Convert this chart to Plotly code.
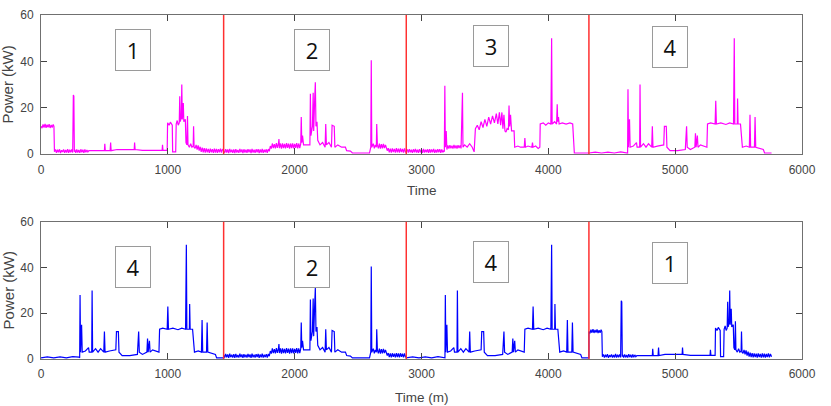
import plotly.graph_objects as go
from plotly.subplots import make_subplots

# ---------------- data (minute of day, kW) ----------------
DAY1 = [(0,12),(8,11.2),(16,12.8),(24,11.5),(32,13),(40,11.4),(48,12.7),(56,11.6),(64,12.9),(72,11.3),(80,12.6),
        (88,11.5),(96,12.8),(102,12),
        (106,1),(114,2),(122,0.6),(130,1.9),(138,0.8),(146,2.1),(154,0.5),(162,1.7),(170,0.9),(178,2),(186,0.6),
        (194,1.8),(202,0.7),(210,2.2),(218,0.6),(226,1.9),(234,0.8),(242,2),(250,0.7),(255,25.5),(259,25),(263,1),
        (266,1.9),(274,0.6),(282,2),(290,0.7),(298,1.8),(306,0.6),(314,2.1),(322,0.8),(330,1.9),(338,0.6),(346,2),
        (354,0.8),(362,1.8),(370,1),(378,1.5),(500,1.5),(503,4.5),(507,1.5),
        (545,1.5),(549,5),(553,1.5),(600,2),(700,2),(735,2),(738,5),(742,2),(800,1.6),(955,1.6),(958,4),(962,1.6),
        (995,1.6),(998,13.5),(1010,12.5),(1020,13.8),(1035,12.5),(1038,1),(1062,1),(1066,13),(1074,14.5),(1082,12.5),
        (1090,13.5),(1094,25),(1098,14),(1106,16),(1110,30),(1114,15),(1122,22),(1126,14),(1138,15),(1143,5),(1150,4),
        (1155,16.5),(1159,4),(1170,3),(1180,4.5),(1190,3),(1200,3.5),(1203,12),(1207,3),
        (1215,2.5),(1223,4),(1231,2),(1239,3.8),(1247,1.5),(1255,3.2),(1263,1),(1271,2.8),(1279,0.8),(1287,2.6),
        (1295,0.7),(1303,2.5),(1311,0.8),(1319,2.3),(1327,0.6),(1335,2.4),(1343,0.8),(1351,2.2),(1359,0.6),(1367,2.4),
        (1375,0.7),(1383,2.3),(1391,0.6),(1399,2.2),(1407,0.8),(1415,2.4),(1423,0.7),(1431,2.2),(1440,1)]

DAY2 = [(0,1.8),(8,0.6),(16,2.2),(24,0.7),(32,2),(40,0.5),(48,2.3),(56,0.8),(64,1.9),(72,0.6),(80,2.1),(88,0.5),
        (96,2.2),(104,0.7),(112,1.8),(120,0.6),(128,2.3),(136,0.8),(144,2),(152,0.5),(160,2.1),(168,0.7),(176,1.9),
        (184,0.6),(192,2.2),(200,0.8),(208,2),(216,0.5),(224,2.3),(232,0.7),(240,1.9),(248,0.6),(256,2.1),(264,0.8),
        (272,2.2),(280,0.5),(288,2),(296,0.7),(304,2.3),(312,0.6),(320,1.9),(328,0.8),(336,2.1),(344,0.6),(352,2.2),
        (360,1.2),(368,3.5),(376,2.4),(384,4.6),(392,2.6),(400,4.3),(408,2.5),(416,4.8),(424,2.7),(432,4.5),(436,6.5),
        (440,2.6),(448,4.6),(456,2.4),(464,4.7),(472,2.6),(480,4.4),(488,2.5),(496,4.8),(504,2.7),(512,4.5),(520,2.4),
        (528,4.6),(536,2.6),(544,4.7),(552,2.5),(560,4.4),(568,2.7),(576,4.8),(584,2.5),(592,4.6),(600,2.6),(608,4.5),
        (612,16),(616,5),(622,8),(630,4),(680,4),(684,26),(688,8),(700,12),(706,26.5),(710,10),(718,24),(723,31),
        (728,12),(736,14),(742,6),(760,4),(780,5),(800,3),(805,13),(810,4),(830,5),(850,3),(855,12.5),(872,12),(877,3),
        (900,4),(930,3),(960,3),(970,1.5),(1000,1.3),(1015,0.5),(1150,0.5),(1160,3),(1164,40.5),(1168,3),(1180,4.5),
        (1188,2.5),(1196,4),(1204,3),(1207,13),(1212,4),(1220,2.5),(1228,4.5),(1236,2.4),(1244,4.3),(1252,2.5),
        (1260,4.4),(1268,2.6),(1276,4),(1284,2.2),(1290,1.5),(1298,2.6),(1306,0.8),(1314,2.4),(1322,0.7),(1330,2.5),
        (1338,0.9),(1346,2.3),(1354,0.7),(1362,2.6),(1370,0.8),(1378,2.4),(1386,0.7),(1394,2.5),(1402,0.9),(1410,2.3),
        (1418,0.7),(1426,2.5),(1434,0.8),(1440,1.2)]

DAY3 = [(0,1),(8,2),(16,0.7),(24,2.2),(32,0.8),(40,1.9),(48,0.6),(56,2.1),(64,0.8),(72,2.3),(80,0.7),(88,1.9),
        (96,0.6),(104,2.2),(112,0.8),(120,2),(128,0.6),(136,2.3),(144,0.7),(152,1.9),(160,0.8),(168,2.1),(176,0.6),
        (184,2.2),(192,0.7),(200,2),(208,0.8),(216,2.3),(224,0.6),(232,1.9),(240,0.7),(248,2.1),(256,0.8),(264,2.2),
        (272,0.6),(280,2),(288,0.8),(296,1.5),(300,1),(304,29.5),(308,3),(315,10),(320,2),(328,3.8),(336,2.4),
        (344,3.9),(352,2.5),(360,3.7),(368,2.4),(376,4),(384,2.5),(392,3.8),(400,2.4),(408,3.9),(416,2.6),(424,3.8),
        (432,2.5),(443,26.5),(447,3),(460,4),(480,3),(500,4.5),(520,3),(535,1),(545,11),(560,12.5),(575,10.5),
        (590,14),(605,11.5),(620,15),(635,12),(650,16),(665,13),(680,16.5),(695,13.5),(710,17.5),(722,13),(734,18),
        (744,12.5),(754,18),(762,11),(770,17),(778,10),(786,9.5),(795,11),(805,10.5),(810,21),(815,12),(822,17),
        (830,10),(850,10),(855,3),(880,3.5),(900,3),(930,3),(935,7),(940,3),(960,3.5),(990,3),(995,5),(1000,3),
        (1020,3.5),(1040,2.5),(1053,3),(1056,13),(1080,13.5),(1100,12.5),(1120,13.5),(1140,13),(1146,50),(1150,13),
        (1170,14),(1185,13),(1190,21.5),(1194,14),(1200,16),(1205,13),(1230,13.5),(1260,13),(1290,13.5),(1312,13),
        (1325,0.5),(1440,0.5)]

DAY4 = [(0,0.5),(50,0.9),(100,0.5),(150,0.9),(200,0.5),(250,1),(300,0.8),(305,0.5),(308,28),(312,3),(320,15),
        (325,3),(350,3.5),(375,5),(380,3),(400,3),(403,30),(407,3),(430,4.5),(450,3),(470,4.5),(495,3),(500,12),
        (505,3),(540,3.5),(590,4),(595,12),(610,12),(615,3),(640,1.5),(700,1.5),(760,2),(770,12),(775,3),(800,2),
        (835,3),(840,9),(845,3),(855,8),(860,3),(880,4),(930,3),(935,13),(960,13.5),(995,13),(1000,23),(1005,13),
        (1040,13.5),(1080,12.8),(1110,13.5),(1140,13),(1146,50),(1150,13),(1170,13),(1172,24),(1176,13),(1195,13),
        (1210,3),(1240,3.5),(1265,3),(1270,17),(1275,3),(1305,3),(1310,16),(1315,3),(1340,2.5),(1375,2),(1385,0.5),
        (1440,0.5)]

DAYS = {1: DAY1, 2: DAY2, 3: DAY3, 4: DAY4}
DAY_LEN = 1440
TOP_ORDER = [1, 2, 3, 4]
BOTTOM_ORDER = [4, 2, 4, 1]
DAY_BOUNDARIES = [1440, 2880, 4320]
X_TICKS = [0, 1000, 2000, 3000, 4000, 5000, 6000]
Y_TICKS = [0, 20, 40, 60]


def compose(order):
    xs, ys = [], []
    for i, d in enumerate(order):
        for t, p in DAYS[d]:
            xs.append(i * DAY_LEN + t)
            ys.append(p)
    return xs, ys


top_x, top_y = compose(TOP_ORDER)
bot_x, bot_y = compose(BOTTOM_ORDER)

# ---------------- figure ----------------
W, H = 831, 406
ML, MR, MT, MB = 41, 29, 8, 47
PH = H - MT - MB
PW = W - ML - MR

fig = make_subplots(rows=2, cols=1)
fig.add_trace(go.Scatter(x=top_x, y=top_y, mode="lines",
                         line=dict(color="#ff00ff", width=1.2)), row=1, col=1)
fig.add_trace(go.Scatter(x=bot_x, y=bot_y, mode="lines",
                         line=dict(color="#0000ff", width=1.2)), row=2, col=1)

axis_common = dict(showgrid=False, zeroline=False, showline=True, linecolor="#707070",
                   linewidth=1, mirror="ticks", ticks="inside", ticklen=6, tickcolor="#444",
                   tickfont=dict(family="Liberation Sans, Arial", size=12, color="#444"))


def py2paper(py):
    return (H - MB - py) / PH


fig.update_layout(
    width=W, height=H, margin=dict(l=ML, r=MR, t=MT, b=MB),
    paper_bgcolor="white", plot_bgcolor="white", showlegend=False,
    xaxis=dict(range=[0, 6000], tickvals=X_TICKS, domain=[0, 1], anchor="y",
               ticklabelstandoff=4, **axis_common),
    yaxis=dict(range=[0, 60], tickvals=Y_TICKS, domain=[py2paper(150), 1], anchor="x",
               ticklabelstandoff=4, **axis_common),
    xaxis2=dict(range=[0, 6000], tickvals=X_TICKS, domain=[0, 1], anchor="y2",
                ticklabelstandoff=4, **axis_common),
    yaxis2=dict(range=[0, 60], tickvals=Y_TICKS, domain=[0, py2paper(219)], anchor="x2",
                ticklabelstandoff=4, **axis_common),
)

for xb in DAY_BOUNDARIES:
    for yr, xr in (("y domain", "x"), ("y2 domain", "x2")):
        fig.add_shape(type="line", x0=xb, x1=xb, y0=0, y1=1, xref=xr, yref=yr,
                      line=dict(color="#ff3030", width=1.5), layer="above")

# day labels in boxes
box_font = dict(family="Open Sans, Liberation Sans", size=22, color="#111")
TOP_BOX = [(725, 44.8), (2137, 44.8), (3548, 46.5), (4959, 46.3)]
BOT_BOX = [(725, 40.3), (2137, 40.3), (3548, 42.4), (4959, 42.0)]
for (bx, by), d in zip(TOP_BOX, TOP_ORDER):
    fig.add_annotation(x=bx, y=by, xref="x", yref="y", text=str(d), showarrow=False,
                       font=box_font, bordercolor="#9a9a9a", borderwidth=1, borderpad=2,
                       bgcolor="white", width=30, height=36)
for (bx, by), d in zip(BOT_BOX, BOTTOM_ORDER):
    fig.add_annotation(x=bx, y=by, xref="x2", yref="y2", text=str(d), showarrow=False,
                       font=box_font, bordercolor="#9a9a9a", borderwidth=1, borderpad=2,
                       bgcolor="white", width=30, height=36)

title_font = dict(family="Liberation Sans, Arial", size=13.5, color="#444")
fig.add_annotation(x=0.5, y=py2paper(187), xref="paper", yref="paper", text="Time",
                   xanchor="center", yanchor="middle", showarrow=False, font=title_font)
fig.add_annotation(x=0.5, y=py2paper(398), xref="paper", yref="paper", text="Time (m)",
                   xanchor="center", yanchor="middle", showarrow=False, font=title_font)
for cy in (79, 289):
    fig.add_annotation(x=(8 - ML) / PW, y=py2paper(cy), xref="paper", yref="paper",
                       text="Power (kW)", textangle=-90, showarrow=False,
                       xanchor="center", yanchor="middle",
                       font=dict(family="Liberation Sans, Arial", size=15, color="#444"))

fig.write_html("out.html")
